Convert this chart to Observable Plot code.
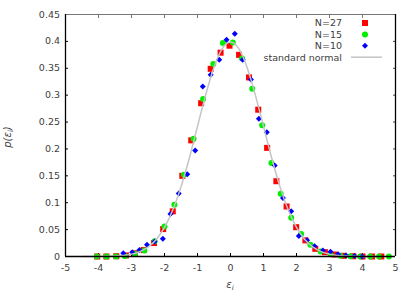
<!DOCTYPE html>
<html><head><meta charset="utf-8">
<script src="https://cdn.jsdelivr.net/npm/d3@7"></script>
<script src="https://cdn.jsdelivr.net/npm/@observablehq/plot@0.6"></script>
<style>body{margin:0;background:#fff} svg{display:block}</style>
</head><body><div id="chart"></div>
<script>
// N=27 (red squares)
const n27X = [-4.04,-3.76,-3.46,-3.17,-2.9,-2.63,-2.32,-2.04,-1.75,-1.46,-1.19,-0.89,-0.6,-0.30,-0.03,0.26,0.56,0.84,1.11,1.39,1.70,1.99,2.27,2.57,2.86,3.15,3.43,3.72,4.0,4.29,4.57];
const n27Y = [0,0,0.0005,0.002,0.006,0.012,0.025,0.051,0.084,0.150,0.216,0.285,0.349,0.379,0.392,0.375,0.333,0.273,0.202,0.140,0.093,0.0545,0.030,0.0143,0.008,0.0037,0.0013,0.0005,0,0,0];
// N=15 (green circles)
const n15X = [-4.05,-3.76,-3.47,-3.2,-2.9,-2.61,-2.30,-2.0,-1.70,-1.41,-1.12,-0.83,-0.52,-0.23,0.07,0.35,0.66,0.96,1.24,1.52,1.84,2.14,2.42,2.73,3.03,3.33,3.63,3.93,4.23,4.5,4.8];
const n15Y = [0,0,0,0.001,0.005,0.011,0.0285,0.056,0.096,0.152,0.219,0.293,0.358,0.397,0.398,0.368,0.312,0.244,0.174,0.1165,0.072,0.042,0.0217,0.0093,0.004,0.0015,0.0005,0,0,0,0];
// N=10 (blue diamonds)
const n10X = [-3.25,-2.98,-2.76,-2.53,-2.30,-2.05,-1.82,-1.57,-1.31,-1.07,-0.84,-0.6,-0.34,-0.12,0.13,0.37,0.62,0.86,1.10,1.34,1.59,1.84,2.07,2.32,2.55,2.80,3.03,3.26,3.5,3.76,3.99];
const n10Y = [0.006,0.008,0.012,0.022,0.028,0.033,0.079,0.117,0.153,0.197,0.316,0.338,0.366,0.403,0.414,0.366,0.329,0.256,0.231,0.169,0.109,0.084,0.038,0.030,0.019,0.011,0.009,0.004,0.002,0.001,0.0];
// standard normal curve, tabulated
const normX = [-4.5,-4,-3.75,-3.5,-3.25,-3,-2.75,-2.5,-2.25,-2,-1.75,-1.5,-1.25,-1,-0.75,-0.5,-0.25,0,0.25,0.5,0.75,1,1.25,1.5,1.75,2,2.25,2.5,2.75,3,3.25,3.5,3.75,4,4.5];
const normY = [0.0000,0.0001,0.0004,0.0009,0.0020,0.0044,0.0091,0.0175,0.0317,0.0540,0.0863,0.1295,0.1826,0.2420,0.3011,0.3521,0.3867,0.3989,0.3867,0.3521,0.3011,0.2420,0.1826,0.1295,0.0863,0.0540,0.0317,0.0175,0.0091,0.0044,0.0020,0.0009,0.0004,0.0001,0.0000];

const xTicks = [-5,-4,-3,-2,-1,0,1,2,3,4,5];
const xTickLabels = ["-5","-4","-3","-2","-1","0","1","2","3","4","5"];
const yTicks = [0,0.05,0.1,0.15,0.2,0.25,0.3,0.35,0.4,0.45];
const yTickLabels = ["0","0.05","0.1","0.15","0.2","0.25","0.3","0.35","0.4","0.45"];
const seriesNames = ["N=27","N=15","N=10","standard normal"];

const rows = (xs, ys) => xs.map((x, i) => ({x, y: ys[i]}));

const plot = Plot.plot({
  width: 415, height: 291,
  marginLeft: 65, marginRight: 20, marginTop: 14, marginBottom: 35,
  style: {fontFamily: "DejaVu Sans", fontSize: "9.5px", color: "#404040", background: "#fff"},
  x: {domain: [-5, 5]},
  y: {domain: [0, 0.45]},
  marks: [
    Plot.axisX(xTicks, {anchor: "bottom", tickSize: -3, tickPadding: 11, stroke: "#000",
      tickFormat: d => xTickLabels[xTicks.indexOf(d)], label: null}),
    Plot.axisX(xTicks.slice(1, -1), {anchor: "top", tickSize: -3, stroke: "#777", tickFormat: null, text: null, label: null}),
    Plot.axisY(yTicks, {anchor: "left", tickSize: -3, tickPadding: 8.5, stroke: "#000",
      tickFormat: d => yTickLabels[yTicks.indexOf(d)], label: null}),
    Plot.axisY(yTicks.slice(1, -1), {anchor: "right", tickSize: -3, stroke: "#444", tickFormat: null, text: null, label: null}),
    Plot.dot(rows(n27X, n27Y), {x: "x", y: "y", symbol: "square", r: 3.4, fill: "#ff0000", stroke: null}),
    Plot.dot(rows(n15X, n15Y), {x: "x", y: "y", symbol: "circle", r: 3, fill: "#00ee00", stroke: null}),
    Plot.dot(rows(n10X, n10Y), {x: "x", y: "y", symbol: "diamond2", r: 2.7, fill: "#0000ff", stroke: null}),
    Plot.line(rows(normX, normY), {x: "x", y: "y", curve: "natural", stroke: "#c4c4c4", strokeWidth: 1.5}),
    Plot.ruleY([0.45], {stroke: "#777", strokeWidth: 1.2}),
    Plot.ruleX([5], {stroke: "#000", strokeWidth: 1.3}),
    Plot.ruleX([-5], {stroke: "#000", strokeWidth: 1.3}),
    Plot.ruleY([0], {stroke: "#000", strokeWidth: 1.3})
  ]
});
document.getElementById("chart").appendChild(plot);

// axis labels and legend
const svg = d3.select(plot);
const ns = "DejaVu Sans";
const xl = svg.append("text").attr("x", 230).attr("y", 288).attr("text-anchor", "middle")
  .attr("font-family", ns).attr("font-size", 10).attr("fill", "#404040").attr("font-style", "italic");
xl.append("tspan").text("ε");
xl.append("tspan").attr("font-size", 7).attr("dy", 2).text("i");

const yl = svg.append("text").attr("transform", "translate(11,137) rotate(-90)").attr("text-anchor", "middle")
  .attr("font-family", ns).attr("font-size", 10).attr("fill", "#404040").attr("font-style", "italic");
yl.append("tspan").text("p(ε");
yl.append("tspan").attr("font-size", 7).attr("dy", 2).text("i");
yl.append("tspan").attr("dy", -2).text(")");

const legY = [23, 34.4, 45.8, 57.2];
const lg = svg.append("g").attr("font-family", ns).attr("font-size", 9.5).attr("fill", "#404040");
seriesNames.forEach((s, i) => {
  lg.append("text").attr("x", 342).attr("y", legY[i]).attr("dy", "0.35em").attr("text-anchor", "end").text(s);
});
const sq = d3.symbol(d3.symbolSquare, Math.PI * 3.4 * 3.4)();
const ci = d3.symbol(d3.symbolCircle, Math.PI * 3 * 3)();
const di = d3.symbol(d3.symbolDiamond2, Math.PI * 2.7 * 2.7)();
lg.append("path").attr("d", sq).attr("transform", `translate(365,${legY[0]})`).attr("fill", "#ff0000");
lg.append("path").attr("d", ci).attr("transform", `translate(365,${legY[1]})`).attr("fill", "#00ee00");
lg.append("path").attr("d", di).attr("transform", `translate(365,${legY[2]})`).attr("fill", "#0000ff");
lg.append("line").attr("x1", 351).attr("x2", 382).attr("y1", legY[3]).attr("y2", legY[3]).attr("stroke", "#c4c4c4").attr("stroke-width", 1.5);
</script>
</body></html>
